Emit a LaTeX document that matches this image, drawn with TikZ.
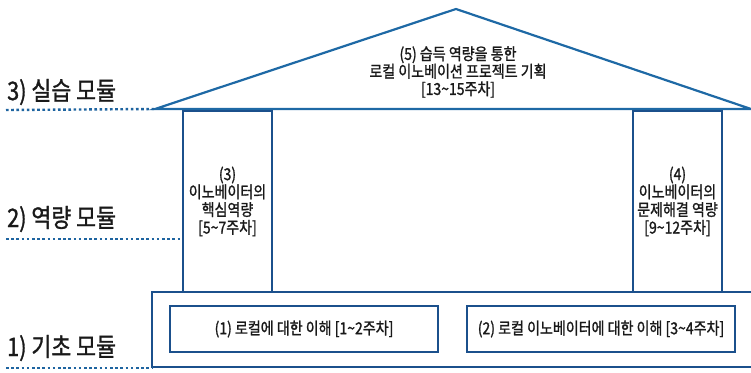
\documentclass[tikz,border=0pt]{standalone}
\usepackage{fontspec}
\setmainfont{Noto Sans CJK KR}[FakeStretch=0.85]
\newfontfamily\kr{Noto Sans CJK KR}[FakeStretch=0.85,FakeBold=1.2]
\definecolor{roofblue}{RGB}{30,105,165}
\definecolor{boxblue}{RGB}{27,80,140}
\definecolor{dotblue}{RGB}{30,100,160}
\definecolor{txt}{RGB}{25,25,25}
\begin{document}
\begin{tikzpicture}[x=1pt,y=-1pt,
  roofline/.style={draw=roofblue,line width=2.2pt,line join=miter},
  pillar/.style={draw=boxblue,line width=2.2pt,minimum width=89pt,minimum height=181pt,inner sep=0pt,
     align=center,font=\kr\fontsize{16.5}{17.8}\selectfont,text=txt},
  innerbox/.style={draw=boxblue,line width=2.2pt,minimum width=268pt,minimum height=46pt,inner sep=0pt,
     font=\kr\fontsize{16.5}{18}\selectfont,text=txt},
  modlabel/.style={anchor=west,inner sep=0pt,font=\kr\fontsize{25.5}{28}\selectfont,text=txt},
  dotline/.style={draw=dotblue,line width=2.4pt,dash pattern=on 2.6pt off 2.6pt},
  rooftext/.style={align=center,font=\kr\fontsize{16.5}{17.5}\selectfont,text=txt,inner sep=0pt}]
\useasboundingbox (0,0) rectangle (751,372);
\clip (0,0) rectangle (751,372);
% roof
\coordinate (apex) at (456,9);
\coordinate (roofL) at (155,109);
\coordinate (roofR) at (751,109);
\draw[roofline] (roofL) -- (apex) -- (roofR) -- cycle;
\node[rooftext] (rooft) at (458,72) {(5) 습득 역량을 통한\\로컬 이노베이션 프로젝트 기획\\{[}13\char`\~15주차{]}};
% pillars
\node[pillar] (p1) at (227.5,201.5) {(3)\\이노베이터의\\핵심역량\\{[}5\char`\~7주차{]}};
\node[pillar] (p2) at (677.5,201.5) {(4)\\이노베이터의\\문제해결 역량\\{[}9\char`\~12주차{]}};
% base
\coordinate (baseNW) at (152,292);
\coordinate (baseSE) at (775,367);
\draw[draw=boxblue,line width=2.2pt] (baseNW) rectangle (baseSE);
\node[innerbox] (b1) at (304,329) {(1) 로컬에 대한 이해 {[}1\char`\~2주차{]}};
\node[innerbox] (b2) at (601,329) {(2) 로컬 이노베이터에 대한 이해 {[}3\char`\~4주차{]}};
% module labels
\node[modlabel] (m3) at (7,92) {3) 실습 모듈};
\node[modlabel] (m2) at (7,219) {2) 역량 모듈};
\node[modlabel] (m1) at (7,348) {1) 기초 모듈};
\coordinate (d3s) at (6,110);
\coordinate (d2s) at (6,239);
\coordinate (d2e) at (p1.west |- d2s);
\coordinate (d1s) at (6,368);
\coordinate (d1e) at (baseNW |- d1s);
\draw[dotline] (d3s) -- (roofL);
\draw[dotline] (d2s) -- (d2e);
\draw[dotline] (d1s) -- (d1e);
\end{tikzpicture}
\end{document}
